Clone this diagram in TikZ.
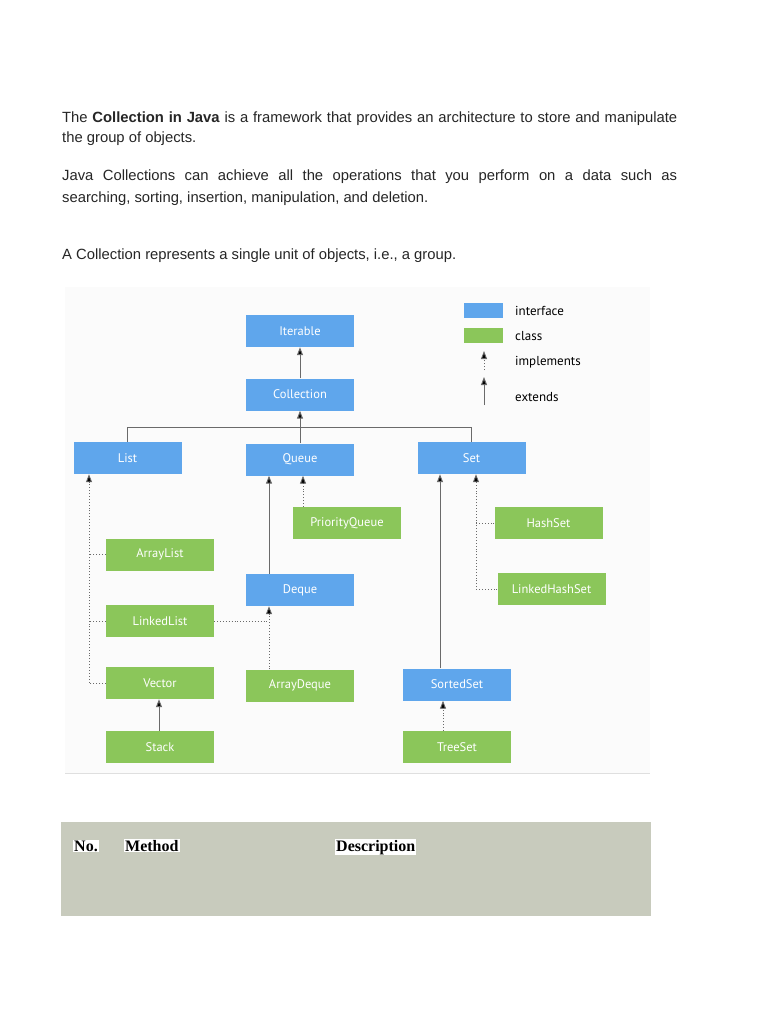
\documentclass[tikz,border=0pt]{standalone}
\usepackage{fontspec}
\setmainfont{Liberation Sans}
\newfontfamily\diagfont{PT Sans}
\newfontfamily\tabfont{Liberation Serif}
\usetikzlibrary{arrows.meta,calc}
\definecolor{ifc}{HTML}{5FA6EC}
\definecolor{clc}{HTML}{8BC65A}
\definecolor{lnc}{HTML}{6A6A6A}
\definecolor{tabc}{HTML}{C8CBBD}
\definecolor{txtc}{HTML}{262626}
\tikzset{
  box/.style={minimum width=108pt,minimum height=32pt,inner sep=0pt,text=white,font=\diagfont\fontsize{12.5}{14}\selectfont},
  ifbox/.style={box,fill=ifc},
  clbox/.style={box,fill=clc},
  ext/.style={draw=lnc,line width=1pt,-{Triangle[width=6pt,length=8pt,fill=black]}},
  impl/.style={draw=lnc,line width=0.9pt,dotted,-{Triangle[width=6pt,length=8pt,fill=black]}},
  dotline/.style={draw=lnc,line width=0.9pt,dotted},
  plain/.style={draw=lnc,line width=1pt},
  body/.style={anchor=base west,inner sep=0pt,text=txtc,font=\fontsize{14.8}{16}\selectfont},
  legtxt/.style={anchor=west,inner sep=0pt,font=\diagfont\fontsize{13}{15}\selectfont,text=black},
  tabh/.style={anchor=base west,fill=white,inner sep=1pt,font=\tabfont\bfseries\fontsize{16}{18}\selectfont,text=black}
}
\begin{document}
\begin{tikzpicture}[x=1pt,y=-1pt]
\useasboundingbox (0,0) rectangle (768,1024);
\fill[white] (0,0) rectangle (768,1024);
% text
\node[body] (t1) at (62,123) {\makebox[615pt][s]{The \textbf{Collection in Java} is a framework that provides an architecture to store and manipulate}};
\node[body] (t2) at (62,143) {the group of objects.};
\node[body] (t3) at (62,181) {\makebox[615pt][s]{Java Collections can achieve all the operations that you perform on a data such as}};
\node[body] (t4) at (62,203) {searching, sorting, insertion, manipulation, and deletion.};
\node[body] (t5) at (62,259) {A Collection represents a single unit of objects, i.e., a group.};
% diagram background
\fill[gray!3] (65,287) rectangle (650,773);
\draw[gray!25,line width=1pt] (65,773.5) -- (650,773.5);
% boxes
\node[ifbox] (Iterable) at (300,331) {Iterable};
\node[ifbox] (Collection) at (300,394.5) {Collection};
\node[ifbox] (List) at (127.5,458) {List};
\node[ifbox] (Queue) at (300,459.5) {Queue};
\node[ifbox] (Set) at (471.5,458) {Set};
\node[clbox] (PriorityQueue) at (347,523) {PriorityQueue};
\node[clbox] (HashSet) at (548.5,523) {HashSet};
\node[clbox] (ArrayList) at (160,554.5) {ArrayList};
\node[ifbox] (Deque) at (300,590) {Deque};
\node[clbox] (LinkedHashSet) at (551.5,589) {LinkedHashSet};
\node[clbox] (LinkedList) at (160,621) {LinkedList};
\node[clbox] (Vector) at (160,683) {Vector};
\node[clbox] (ArrayDeque) at (300,685.5) {ArrayDeque};
\node[ifbox] (SortedSet) at (457,684.5) {SortedSet};
\node[clbox] (Stack) at (160,747) {Stack};
\node[clbox] (TreeSet) at (457,747) {TreeSet};
% legend
\node[fill=ifc,minimum width=39pt,minimum height=15pt,inner sep=0pt] (legI) at (483.5,310.5) {};
\node[fill=clc,minimum width=39pt,minimum height=15pt,inner sep=0pt] (legC) at (483.5,335.5) {};
\node[legtxt] (legIt) at (515,311) {interface};
\node[legtxt] (legCt) at (515,336) {class};
\node[legtxt] (legImt) at (515,362) {implements};
\node[legtxt] (legExt) at (515,397) {extends};
\coordinate (imA) at (484,370);
\coordinate (imB) at (484,351);
\coordinate (exA) at (484,405);
\coordinate (exB) at (484,377);
\draw[impl] (imA) -- (imB);
\draw[ext] (exA) -- (exB);
% connectors
\draw[ext] (Collection.north) -- (Iterable.south);
\coordinate (bus) at (0,427);
\draw[plain] (List.north) -- (List.north |- bus) -- (Set.north |- bus) -- (Set.north);
\draw[ext] (Queue.north) -- (Collection.south);
% List implementations
\coordinate (lx) at (89,0);
\draw[impl] (Vector.west) -| (lx |- List.south);
\draw[dotline] (ArrayList.west) -- (ArrayList.west -| lx);
\draw[dotline] (LinkedList.west) -- (LinkedList.west -| lx);
% Queue
\draw[ext] ([xshift=-31pt]Deque.north) -- ([xshift=-31pt]Queue.south);
\draw[impl] ([xshift=3pt]Queue.south |- PriorityQueue.north) -- ([xshift=3pt]Queue.south);
% Deque
\coordinate (dx) at (269,0);
\draw[impl] (dx |- ArrayDeque.north) -- (dx |- Deque.south);
\draw[dotline] (LinkedList.east) -- (LinkedList.east -| dx);
% Set
\draw[ext] ([xshift=-17pt]SortedSet.north) -- ([xshift=-17pt]SortedSet.north |- Set.south);
\coordinate (sx) at (476,0);
\draw[impl] (LinkedHashSet.west) -| (sx |- Set.south);
\draw[dotline] (HashSet.west) -- (HashSet.west -| sx);
% SortedSet
\draw[impl] ([xshift=-14pt]TreeSet.north) -- ([xshift=-14pt]SortedSet.south);
% Vector
\draw[ext] ([xshift=-1pt]Stack.north) -- ([xshift=-1pt]Vector.south);
% table
\fill[tabc] (61,822) rectangle (651,916);
\node[tabh] (hNo) at (73,851) {No.};
\node[tabh] (hMethod) at (124,851) {Method};
\node[tabh] (hDesc) at (335,851) {Description};
\end{tikzpicture}
\end{document}
